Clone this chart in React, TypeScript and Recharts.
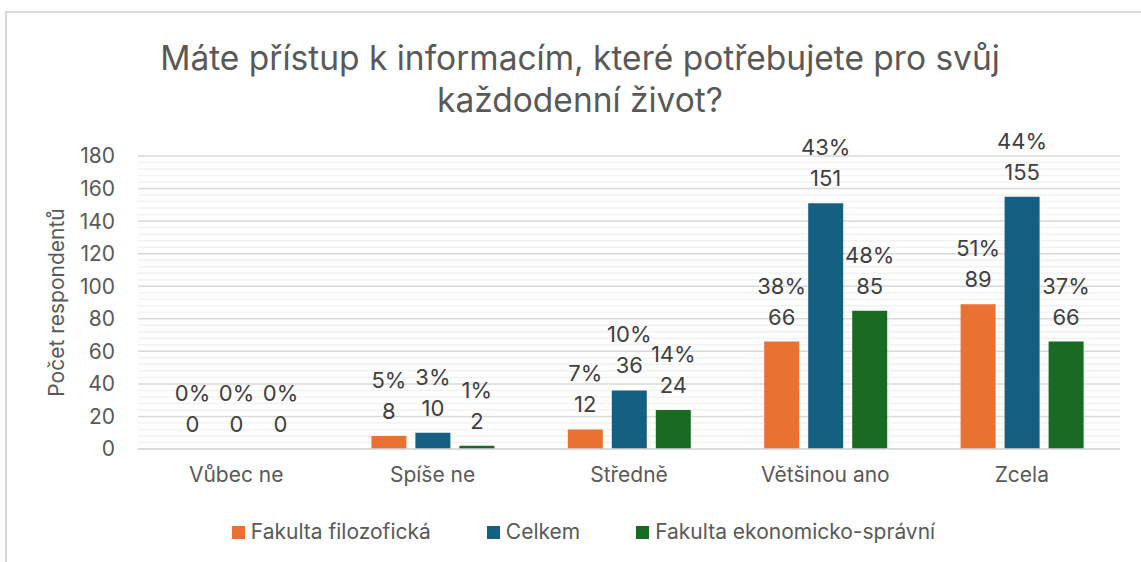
import { Bar, BarChart, CartesianGrid, LabelList, XAxis, YAxis } from 'recharts';

const categories = ['Vůbec ne', 'Spíše ne', 'Středně', 'Většinou ano', 'Zcela'];
const filozofickaCount = [0, 8, 12, 66, 89];
const filozofickaPct = ['0%', '5%', '7%', '38%', '51%'];
const celkemCount = [0, 10, 36, 151, 155];
const celkemPct = ['0%', '3%', '10%', '43%', '44%'];
const ekonomickaCount = [0, 2, 24, 85, 66];
const ekonomickaPct = ['0%', '1%', '14%', '48%', '37%'];
const yTicks = [0, 20, 40, 60, 80, 100, 120, 140, 160, 180];

const FONT = 'Inter, "Open Sans", sans-serif';
const TEXT = '#595959';
const C_FF = '#E97132';
const C_ALL = '#156082';
const C_FE = '#196B24';

const rows = categories.map((name, i) => ({
  name,
  ff: filozofickaCount[i],
  ffLbl: `${filozofickaPct[i]}|${filozofickaCount[i]}`,
  all: celkemCount[i],
  allLbl: `${celkemPct[i]}|${celkemCount[i]}`,
  fe: ekonomickaCount[i],
  feLbl: `${ekonomickaPct[i]}|${ekonomickaCount[i]}`,
}));

// minor gridlines every 4 respondents (5 per major step)
const minorLines = Array.from({ length: 46 }, (_, i) => i * 4).filter((v) => v % 20 !== 0);

const series = [
  { key: 'ff', lbl: 'ffLbl', name: 'Fakulta filozofická', color: C_FF },
  { key: 'all', lbl: 'allLbl', name: 'Celkem', color: C_ALL },
  { key: 'fe', lbl: 'feLbl', name: 'Fakulta ekonomicko-správní', color: C_FE },
];

function TwoLineLabel(props: any) {
  const { x, y, width, value } = props;
  const cx = Number(x) + Number(width) / 2;
  const top = Number(y);
  const [pct, count] = String(value).split('|');
  return (
    <g>
      <text x={cx} y={top - 56} textAnchor="middle" dominantBaseline="central" fill="#404040" fontSize={22} fontFamily={FONT}>
        {pct}
      </text>
      <text x={cx} y={top - 25} textAnchor="middle" dominantBaseline="central" fill="#404040" fontSize={22} fontFamily={FONT}>
        {count}
      </text>
    </g>
  );
}

function LegendBox() {
  return (
    <div
      style={{
        position: 'absolute',
        left: 0,
        top: 519,
        width: 1167,
        display: 'flex',
        justifyContent: 'center',
        gap: 56,
        fontFamily: FONT,
        fontSize: 21,
        lineHeight: '26px',
        color: TEXT,
      }}
    >
      {series.map((s) => (
        <span key={s.key} style={{ display: 'flex', alignItems: 'center', gap: 6 }}>
          <i style={{ display: 'inline-block', width: 13, height: 13, background: s.color }} />
          {s.name}
        </span>
      ))}
    </div>
  );
}

export default function App() {
  return (
    <div style={{ position: 'absolute', left: 0, top: 0, width: 1141, height: 562, background: '#fff', overflow: 'hidden' }}>
      <div style={{ position: 'absolute', left: 5, top: 11, right: -10, bottom: -10, borderTop: '2px solid #D9D9D9', borderLeft: '2px solid #D9D9D9' }} />
      <div
        style={{
          position: 'absolute',
          left: 0,
          top: 37,
          width: 1160,
          textAlign: 'center',
          fontFamily: FONT,
          fontSize: 33.5,
          lineHeight: '42px',
          color: TEXT,
        }}
      >
        Máte přístup k informacím, které potřebujete pro svůj
        <br />
        každodenní život?
      </div>
      <div style={{ position: 'absolute', left: 0, top: 0 }}>
        <BarChart
          width={1141}
          height={562}
          data={rows}
          margin={{ top: 156, right: 21, left: 0, bottom: 0 }}
          barSize={35}
          barGap={9}
        >
          <CartesianGrid vertical={false} horizontalValues={minorLines} stroke="#F2F2F2" strokeWidth={1.5} />
          <CartesianGrid vertical={false} horizontalValues={yTicks} stroke="#D9D9D9" strokeWidth={1.5} />
          <XAxis
            dataKey="name"
            axisLine={{ stroke: '#D9D9D9', strokeWidth: 1.5 }}
            tickLine={false}
            tickSize={0}
            tickMargin={18}
            height={113}
            tick={{ fill: TEXT, fontSize: 21, fontFamily: FONT }}
          />
          <YAxis
            domain={[0, 180]}
            ticks={yTicks}
            interval={0}
            axisLine={false}
            tickLine={false}
            tickSize={0}
            tickMargin={23}
            width={138}
            tick={{ fill: TEXT, fontSize: 21, fontFamily: FONT }}
            label={{
              value: 'Počet respondentů',
              angle: -90,
              position: 'insideLeft',
              offset: 57,
              style: { textAnchor: 'middle', fill: TEXT, fontSize: 21, fontFamily: FONT },
            }}
          />
          {series.map((s) => (
            <Bar key={s.key} dataKey={s.key} name={s.name} fill={s.color} minPointSize={0.01} isAnimationActive={false}>
              <LabelList dataKey={s.lbl} content={<TwoLineLabel />} />
            </Bar>
          ))}
        </BarChart>
      </div>
      <LegendBox />
    </div>
  );
}
